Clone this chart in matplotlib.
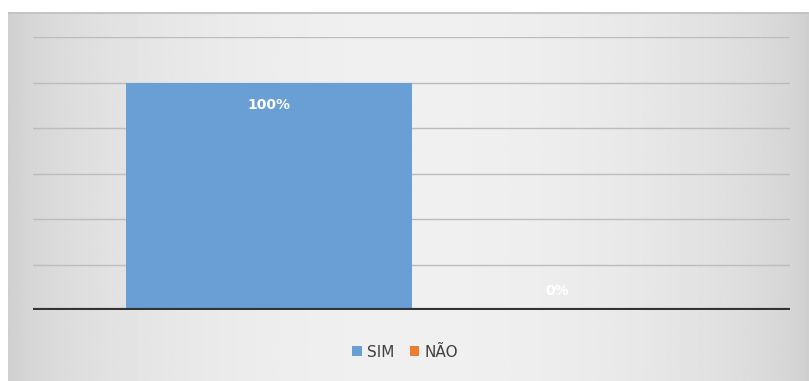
import matplotlib.pyplot as plt
import numpy as np
from matplotlib.patches import Patch

# data
series = ["SIM", "NÃO"]
values = [1.0, 0.0]
labels = ["100%", "0%"]
colors = ["#6a9fd6", "#ed7d31"]
y_ticks = [0.2, 0.4, 0.6, 0.8, 1.0, 1.2]

W, H = 809, 381
fig = plt.figure(figsize=(W / 100, H / 100), dpi=100)
fig.patch.set_facecolor("white")

# chart frame with a soft horizontal gradient
bg = fig.add_axes([8 / W, 0, 1 - 8 / W, (H - 12) / H])
bg.set_axis_off()
xs = np.linspace(0, 1, 400)
shade = 0.81 + 0.13 * np.sin(np.pi * xs) ** 0.6
bg.imshow(np.tile(shade, (10, 1)), cmap="gray", vmin=0, vmax=1,
          aspect="auto", extent=[0, 1, 0, 1])
bg.plot([0, 1], [0.998, 0.998], color="#c4c4c4", lw=1.5)
bg.set_xlim(0, 1)
bg.set_ylim(0, 1)

# plot area
ax = fig.add_axes([33 / W, 1 - 310 / H, 757 / W, (310 - 37) / H])
ax.patch.set_alpha(0)
for s in ax.spines.values():
    s.set_visible(False)

x = np.arange(len(series))
bars = ax.bar(x, values, width=1.0, color=colors, zorder=2)
ax.set_xlim(0.5 - 1.3235, 0.5 + 1.3235)
ax.set_ylim(0, 1.2)
for yt in y_ticks:
    ax.axhline(yt, color="#bcbcbc", lw=1.0, zorder=1)
ax.axhline(0, color="#333333", lw=3, zorder=3)
ax.set_xticks([])
ax.set_yticks([])

# data labels
for xi, v, lab in zip(x, values, labels):
    yy = v - 0.1 if v > 0.2 else 0.085
    ax.text(xi + (0.01 if v == 0 else 0), yy, lab, ha="center", va="center",
            color="white", fontsize=10, fontweight="bold", zorder=4)

# legend
handles = [Patch(facecolor=c, edgecolor="none") for c in colors]
fig.legend(handles, series, loc="center", bbox_to_anchor=(405 / W, 1 - 352 / H),
           ncol=2, frameon=False, fontsize=11, handlelength=0.65,
           handleheight=0.65, handletextpad=0.3, columnspacing=1.0,
           labelcolor="#404040")

fig.savefig("out.png", dpi=100)
